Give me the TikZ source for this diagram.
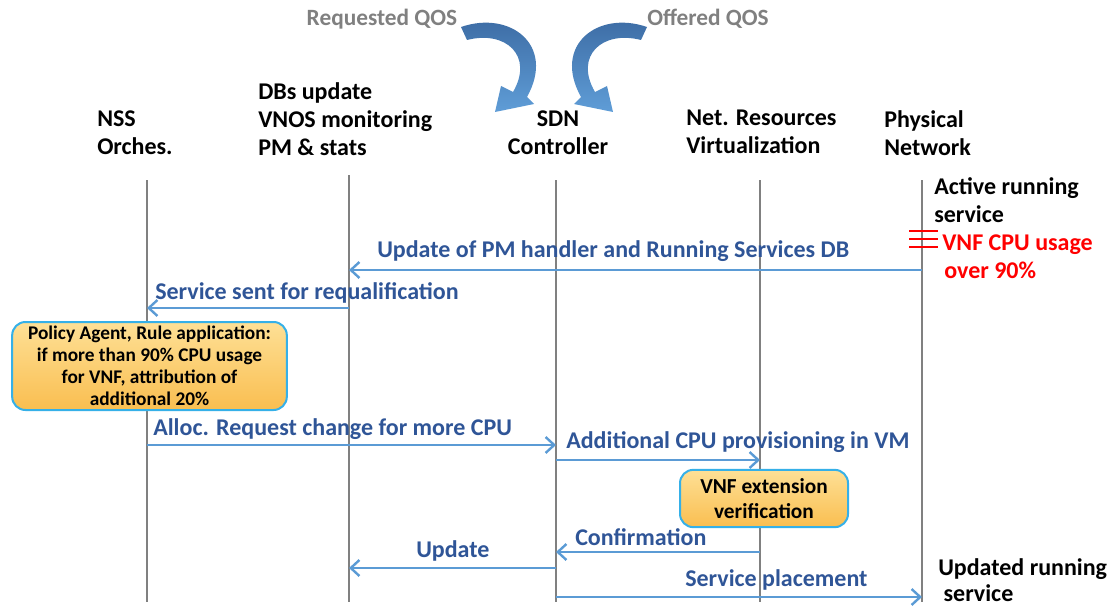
\documentclass[tikz,border=0pt]{standalone}
\usepackage{fontspec}
\setmainfont{Carlito}
\usetikzlibrary{arrows.meta}
\definecolor{life}{RGB}{128,128,128}
\definecolor{msgline}{RGB}{91,155,213}
\definecolor{msgtext}{RGB}{47,85,151}
\definecolor{boxborder}{RGB}{53,176,232}
\definecolor{boxtop}{RGB}{254,224,150}
\definecolor{boxbot}{RGB}{249,190,80}
\definecolor{qosgray}{RGB}{128,128,128}
\definecolor{arrdark}{RGB}{58,104,160}
\definecolor{arrlight}{RGB}{95,157,215}
\tikzset{
  hdr/.style={font=\fontsize{18}{21}\selectfont\bfseries, align=left, anchor=north west, inner sep=0pt},
  lifeline/.style={draw=life, line width=2.2pt},
  msg/.style={draw=msgline, line width=1.8pt, -{Straight Barb[length=6.5pt,width=12pt,line width=1.8pt]}},
  msglabel/.style={font=\fontsize{18}{21}\selectfont\bfseries, text=msgtext, anchor=base west, inner sep=0pt},
  notebox/.style={draw=boxborder, line width=1.5pt, rounded corners=10pt, top color=boxtop, bottom color=boxbot, align=center, inner sep=1pt},
  qos/.style={font=\fontsize{17.5}{21}\selectfont\bfseries, text=qosgray, inner sep=0pt},
  bigarrow/.style={top color=arrdark, bottom color=arrlight, draw=none}
}
\begin{document}
\begin{tikzpicture}[x=0.75pt,y=-0.75pt]
\useasboundingbox (0,0) rectangle (1112,606);

% QOS labels and curved arrows
\node[qos] (rq) at (382,19) {Requested QOS};
\node[qos] (oq) at (708,19) {Offered QOS};
\path[bigarrow] (461,27) .. controls (510,10) and (556,45) .. (527,97) -- (534,104) -- (495,112) -- (501,86) -- (513,92) .. controls (534,56) and (506,30) .. (467,40) -- cycle;
\path[bigarrow] (647,27) .. controls (598,10) and (552,45) .. (581,97) -- (574,104) -- (613,112) -- (607,86) -- (595,92) .. controls (574,56) and (602,30) .. (641,40) -- cycle;

% headers
\node[hdr] (hNSS) at (97,110) {NSS\\Orches.};
\node[hdr] (hDB) at (258,82) {DBs update\\VNOS monitoring\\PM \& stats};
\node[hdr, align=center, anchor=north] (hSDN) at (558,110) {SDN\\Controller};
\node[hdr] (hNR) at (686,110) {Net. Resources\\Virtualization};
\node[hdr] (hPN) at (884,110) {Physical\\Network};

% lifelines
\coordinate (nssT) at (147,180); \coordinate (nssB) at (147,602);
\coordinate (dbT) at (349,175); \coordinate (dbB) at (349,602);
\coordinate (sdnT) at (556,180); \coordinate (sdnB) at (556,602);
\coordinate (nrT) at (760,180); \coordinate (nrB) at (760,602);
\coordinate (pnT) at (922,180); \coordinate (pnB) at (922,602);
\draw[lifeline] (nssT) -- (nssB);
\draw[lifeline] (dbT) -- (dbB);
\draw[lifeline] (sdnT) -- (sdnB);
\draw[lifeline] (nrT) -- (nrB);
\draw[lifeline] (pnT) -- (pnB);

% physical network states
\node[hdr] (active) at (934,177) {Active running\\service};
\node[hdr, text=red, font=\fontsize{18}{21}\selectfont\bfseries] (alarm) at (942,234) {VNF CPU usage\\\hspace*{1.5pt}over 90\%};
\draw[red, line width=2pt] (909,231) -- (938,231) (909,239) -- (938,239) (909,247) -- (938,247);
\node[hdr, font=\fontsize{18}{20}\selectfont\bfseries] (updated) at (938,558) {Updated running\\\hspace*{4pt}service};

% message endpoints
\coordinate (m1a) at (922,270); \coordinate (m1b) at (349,270);
\coordinate (m2a) at (349,308); \coordinate (m2b) at (147,308);
\coordinate (m3a) at (147,445); \coordinate (m3b) at (556,445);
\coordinate (m4a) at (556,460); \coordinate (m4b) at (760,460);
\coordinate (m5a) at (760,552); \coordinate (m5b) at (556,552);
\coordinate (m6a) at (556,568); \coordinate (m6b) at (349,568);
\coordinate (m7a) at (556,597); \coordinate (m7b) at (922,597);

\draw[msg] (m1a) -- (m1b);
\draw[msg] (m2a) -- (m2b);
\draw[msg] (m3a) -- (m3b);
\draw[msg] (m4a) -- (m4b);
\draw[msg] (m5a) -- (m5b);
\draw[msg] (m6a) -- (m6b);
\draw[msg] (m7a) -- (m7b);

\node[msglabel] (l1) at (377,257) {Update of PM handler and Running Services DB};
\node[msglabel] (l2) at (155,299) {Service sent for requalification};
\node[msglabel] (l3) at (153,435) {Alloc. Request change for more CPU};
\node[msglabel] (l4) at (566,448) {Additional CPU provisioning in VM};
\node[msglabel] (l5) at (575,545) {Confirmation};
\node[msglabel] (l6) at (416,557) {Update};
\node[msglabel] (l7) at (685,586) {Service placement};

% note boxes
\node[notebox, minimum width=206pt, minimum height=66pt, font=\fontsize{14.5}{16.5}\selectfont\bfseries] (policy) at (149.5,366) {\rule{0pt}{6pt}Policy Agent, Rule application:\\if more than 90\% CPU usage\\for VNF, attribution of\\additional 20\%};
\node[notebox, minimum width=126pt, minimum height=43pt, font=\fontsize{16}{18.5}\selectfont\bfseries] (vnf) at (764,498.5) {VNF extension\\verification};
\end{tikzpicture}
\end{document}
